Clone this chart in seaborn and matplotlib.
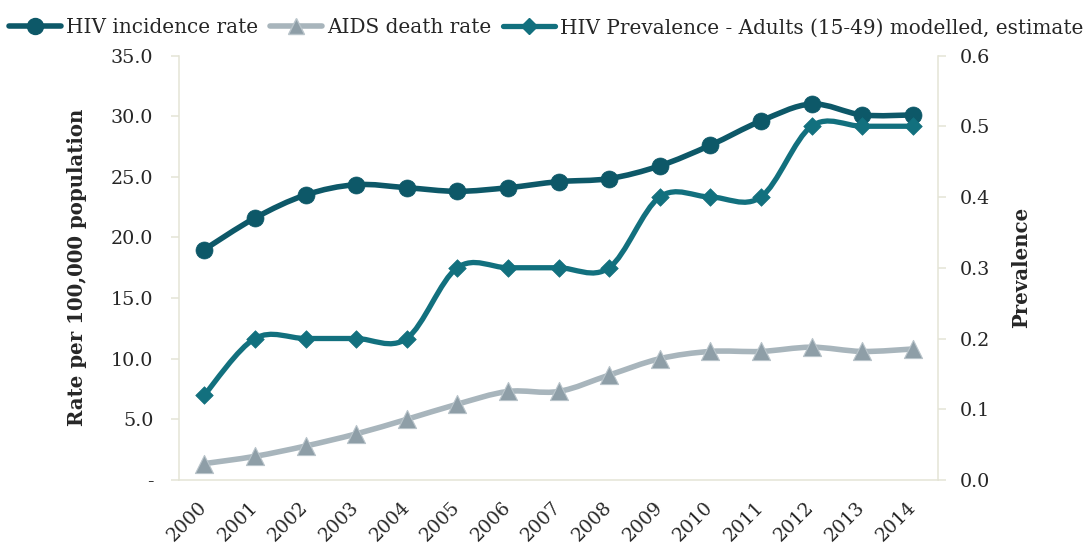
import numpy as np
import pandas as pd
import matplotlib
matplotlib.use("Agg")
import matplotlib.pyplot as plt
import seaborn as sns
from matplotlib.path import Path
from matplotlib.patches import PathPatch
from matplotlib.lines import Line2D
from matplotlib.ticker import FixedLocator, FuncFormatter

# ---- data -------------------------------------------------------------
years = [str(y) for y in range(2000, 2015)]
hiv_incidence = [19.0, 21.6, 23.5, 24.35, 24.1, 23.8, 24.1, 24.6, 24.85,
                 25.9, 27.6, 29.6, 31.0, 30.1, 30.1]
aids_death = [1.35, 1.95, 2.8, 3.8, 5.0, 6.25, 7.3, 7.3, 8.65,
              10.0, 10.6, 10.6, 10.95, 10.6, 10.8]
prevalence = [0.12, 0.2, 0.2, 0.2, 0.2, 0.3, 0.3, 0.3, 0.3,
              0.4, 0.4, 0.4, 0.5, 0.5, 0.5]

series_names = ["HIV incidence rate", "AIDS death rate",
                "HIV Prevalence - Adults (15-49) modelled, estimate"]

# ---- style ------------------------------------------------------------
sns.set_style("white")
plt.rcParams["font.family"] = ["DejaVu Serif"]

C_INC = "#0d5868"
C_PREV = "#12707e"
C_DEATH = "#a8b5bc"
C_DEATH_MK = "#8e9ea7"
C_AXIS = "#e4e4d6"

df = pd.DataFrame({"year": years, "pos": np.arange(len(years)),
                   "incidence": hiv_incidence, "death": aids_death,
                   "prevalence": prevalence})


def smooth_path(x, y):
    """Cardinal-spline (Catmull-Rom) path through the points, as cubic Beziers."""
    pts = np.column_stack([np.asarray(x, float), np.asarray(y, float)])
    n = len(pts)
    verts = [pts[0]]
    codes = [Path.MOVETO]
    for i in range(n - 1):
        p0 = pts[i - 1] if i > 0 else pts[i]
        p1 = pts[i]
        p2 = pts[i + 1]
        p3 = pts[i + 2] if i + 2 < n else pts[i + 1]
        verts += [p1 + (p2 - p0) / 6.0, p2 - (p3 - p1) / 6.0, p2]
        codes += [Path.CURVE4] * 3
    return Path(verts, codes)


def draw_curve(ax, x, y, color, lw, z):
    patch = PathPatch(smooth_path(x, y), facecolor="none", edgecolor=color,
                      lw=lw, capstyle="round", joinstyle="round", zorder=z)
    ax.add_patch(patch)


fig = plt.figure(figsize=(10.86, 5.48), dpi=100)
ax = fig.add_axes([179 / 1086, (548 - 480) / 548,
                   (938 - 179) / 1086, (480 - 55.5) / 548])
ax2 = ax.twinx()

# left axis series
draw_curve(ax, df["pos"], df["death"], C_DEATH, 4.0, 2)
sns.scatterplot(data=df, x="pos", y="death", ax=ax, marker="^", s=170,
                color=C_DEATH_MK, edgecolor="#b9c4ca", linewidth=0.8,
                zorder=3, legend=False)
draw_curve(ax, df["pos"], df["incidence"], C_INC, 4.0, 4)
sns.scatterplot(data=df, x="pos", y="incidence", ax=ax, marker="o", s=150,
                color=C_INC, edgecolor=C_INC, linewidth=0.5,
                zorder=5, legend=False)

# right axis series
draw_curve(ax2, df["pos"], df["prevalence"], C_PREV, 3.8, 4)
sns.scatterplot(data=df, x="pos", y="prevalence", ax=ax2, marker="D", s=80,
                color=C_PREV, edgecolor=C_PREV, linewidth=0.5,
                zorder=5, legend=False)

# ---- axes -------------------------------------------------------------
ax.set_xlim(-0.5, len(years) - 0.5)
ax.set_ylim(0, 35)
ax2.set_ylim(0, 0.6)

ax.xaxis.set_major_locator(FixedLocator(np.arange(-0.5, len(years), 1.0)))
ax.xaxis.set_major_formatter(FuncFormatter(lambda v, p: ""))
ax.set_xticks(np.arange(len(years)), minor=True)
ax.set_xticklabels(years, minor=True, rotation=45, ha="right", va="center",
                   rotation_mode="anchor")
ax.tick_params(axis="x", which="major", direction="out", length=5.5,
               width=1.1, color=C_AXIS)
ax.tick_params(axis="x", which="minor", length=0, pad=18, labelsize=13.5)

ax.set_yticks(np.arange(0, 36, 5))
ax.yaxis.set_major_formatter(
    FuncFormatter(lambda v, p: "-" if v == 0 else f"{v:.1f}"))
ax.tick_params(axis="y", direction="out", length=5.5, width=1.1,
               color=C_AXIS, pad=13, labelsize=13.8)

ax2.set_yticks(np.round(np.arange(0, 0.61, 0.1), 1))
ax2.yaxis.set_major_formatter(FuncFormatter(lambda v, p: f"{v:.1f}"))
ax2.tick_params(axis="y", direction="out", length=5.5, width=1.1,
                color=C_AXIS, pad=10, labelsize=13.8)

for a in (ax, ax2):
    a.set_xlabel("")
    for side in ("top", "left", "right", "bottom"):
        a.spines[side].set_visible(False)
ax.spines["left"].set_visible(True)
ax.spines["bottom"].set_visible(True)
ax2.spines["right"].set_visible(True)
for sp in (ax.spines["left"], ax.spines["bottom"], ax2.spines["right"]):
    sp.set_color(C_AXIS)
    sp.set_linewidth(1.1)

ax.set_ylabel("Rate per 100,000 population", fontsize=14.2, fontweight="bold")
ax.yaxis.set_label_coords(-0.121, 0.5)
ax2.set_ylabel("Prevalence", fontsize=14.2, fontweight="bold")
ax2.yaxis.set_label_coords(1.096, 0.5)

# ---- legend -----------------------------------------------------------
handles = [
    Line2D([], [], color=C_INC, lw=4.0, marker="o", ms=11.5, mfc=C_INC, mec=C_INC),
    Line2D([], [], color=C_DEATH, lw=4.0, marker="^", ms=12,
           mfc=C_DEATH_MK, mec="#b9c4ca"),
    Line2D([], [], color=C_PREV, lw=3.8, marker="D", ms=8, mfc=C_PREV, mec=C_PREV),
]
fig.legend(handles, series_names, loc="center", ncol=3,
           bbox_to_anchor=(0.503, 0.949), frameon=False, fontsize=14.4,
           handlelength=2.6, handletextpad=0.25, columnspacing=0.6,
           borderpad=0, borderaxespad=0)

fig.savefig("out.png", dpi=100)
